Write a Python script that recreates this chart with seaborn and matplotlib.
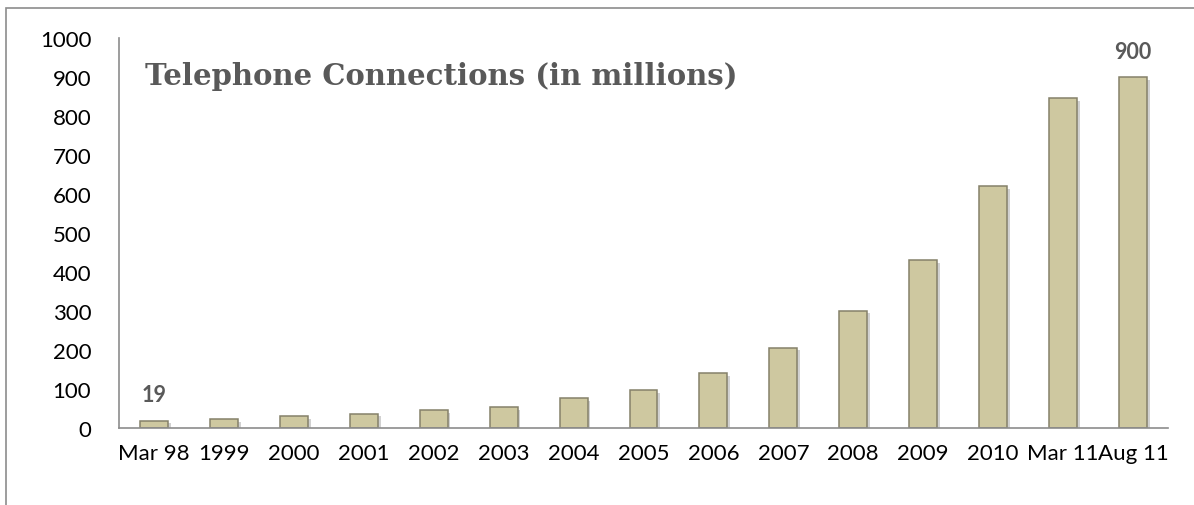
import matplotlib
matplotlib.use("Agg")
import matplotlib.pyplot as plt
import matplotlib.patheffects as pe
import seaborn as sns
import pandas as pd
from matplotlib.patches import Rectangle

categories = ["Mar 98", "1999", "2000", "2001", "2002", "2003", "2004", "2005",
              "2006", "2007", "2008", "2009", "2010", "Mar 11", "Aug 11"]
connections = [19, 23, 30, 37, 45, 54, 76, 98, 140, 206, 301, 430, 621, 846, 900]
title_text = "Telephone Connections (in millions)"
yticks = [0, 100, 200, 300, 400, 500, 600, 700, 800, 900, 1000]

sns.set_style("white")
plt.rcParams['font.family'] = ['Lato', 'DejaVu Sans']

df = pd.DataFrame({"category": categories, "value": connections})

fig = plt.figure(figsize=(11.94, 5.06), dpi=100)
ax = fig.add_axes([119/1194, 1 - 429/506, (1168 - 119)/1194, (429 - 39)/506])

sns.barplot(data=df, x="category", y="value", color="#CEC8A0", width=0.4,
            saturation=1, edgecolor="#85816A", linewidth=1.1, ax=ax)
for bar in ax.patches:
    bar.set_path_effects([pe.SimplePatchShadow(offset=(2, -2), shadow_rgbFace="#000000", alpha=0.18),
                          pe.Normal()])

ax.set_ylim(0, 1000)
ax.set_xlim(-0.5, len(categories) - 0.5)
ax.set_yticks(yticks)
ax.set_yticklabels([str(v) for v in yticks])
ax.tick_params(axis="both", length=0, labelsize=16, colors="black")
ax.tick_params(axis="y", pad=20)
ax.tick_params(axis="x", pad=11)
ax.set_xlabel("")
ax.set_ylabel("")
for s in ["top", "right"]:
    ax.spines[s].set_visible(False)
for s in ["left", "bottom"]:
    ax.spines[s].set_color("#8C8C8C")
    ax.spines[s].set_linewidth(1.2)

# value labels on first and last bars
for i in [0, len(categories) - 1]:
    ax.annotate(str(connections[i]), xy=(i, connections[i]), xytext=(0, 11),
                textcoords="offset points", ha="center", va="bottom",
                fontsize=15.5, fontweight="bold", color="#595959")

ax.text(0.025, 0.905, title_text, transform=ax.transAxes, ha="left", va="center",
        fontsize=21, fontweight="bold", color="#595959", family="DejaVu Serif")

# outer chart border (extends off the right and bottom edges)
fig.patches.append(Rectangle((6/1194, -0.1), 1.2, 1.1 - 9/506, transform=fig.transFigure,
                             fill=False, edgecolor="#8C8C8C", linewidth=1.2))

fig.savefig("out.png", dpi=100)
